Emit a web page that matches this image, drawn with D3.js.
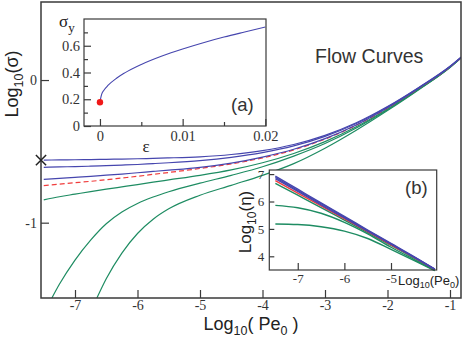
<!DOCTYPE html>
<html><head><meta charset="utf-8">
<script src="https://cdn.jsdelivr.net/npm/d3@7"></script>
<style>body{margin:0;background:#fff}svg{display:block}</style>
</head><body>
<script>
// ---------- data: main flow curves (log10 Pe0 vs log10 sigma) ----------
const pe = [-7.5,-7.25,-7,-6.75,-6.5,-6.25,-6,-5.75,-5.5,-5,-4.5,-4,-3.5,-3,-2.5,-2,-1.5,-1,-0.82];
const blue1 = [-0.561,-0.560,-0.559,-0.558,-0.556,-0.554,-0.552,-0.549,-0.546,-0.538,-0.522,-0.495,-0.452,-0.388,-0.300,-0.186,-0.052,0.096,0.161];
const blue2 = [-0.612,-0.609,-0.607,-0.604,-0.600,-0.596,-0.592,-0.586,-0.580,-0.565,-0.542,-0.509,-0.462,-0.395,-0.305,-0.189,-0.054,0.095,0.160];
const blue3 = [-0.696,-0.689,-0.682,-0.675,-0.667,-0.659,-0.650,-0.641,-0.632,-0.612,-0.582,-0.540,-0.485,-0.411,-0.315,-0.194,-0.057,0.093,0.159];
const redDash = [-0.740,-0.730,-0.720,-0.710,-0.699,-0.687,-0.675,-0.661,-0.648,-0.620,-0.588,-0.546,-0.490,-0.414,-0.317,-0.196,-0.058,0.092,0.159];
const green1 = [-0.840,-0.818,-0.800,-0.782,-0.765,-0.749,-0.733,-0.716,-0.700,-0.668,-0.630,-0.580,-0.515,-0.432,-0.328,-0.203,-0.063,0.090,0.158];
const peG2 = [-7.37,-7.25,-7,-6.75,-6.5,-6.25,-6,-5.75,-5.5,-5,-4.5,-4,-3.5,-3,-2.5,-2,-1.5,-1,-0.82];
const green2 = [-1.528,-1.432,-1.262,-1.122,-1.007,-0.925,-0.865,-0.820,-0.783,-0.723,-0.668,-0.608,-0.533,-0.445,-0.336,-0.208,-0.065,0.089,0.157];
const peG3 = [-6.65,-6.5,-6.25,-6,-5.75,-5.5,-5,-4.5,-4,-3.5,-3,-2.5,-2,-1.5,-1,-0.82];
const green3 = [-1.528,-1.393,-1.213,-1.076,-0.976,-0.903,-0.808,-0.738,-0.668,-0.586,-0.478,-0.352,-0.214,-0.068,0.088,0.156];
const xMarker = [-7.544, -0.561];
const mainXTicks = [-7,-6,-5,-4,-3,-2,-1];
const mainYTicks = [0,-1];

// ---------- inset (a): yield stress vs epsilon ----------
const eps = [0,0.0002,0.0005,0.001,0.002,0.003,0.005,0.0075,0.01,0.0125,0.015,0.0175,0.02];
const sigmaY = [0.18,0.236,0.269,0.305,0.357,0.397,0.46,0.523,0.576,0.623,0.665,0.703,0.74];
const redPoint = [0, 0.178];
const aXTicks = [0,0.01,0.02], aXMinor = [0.005,0.015];
const aYTicks = [0,0.2,0.4,0.6], aYMinor = [0.1,0.3,0.5,0.7];

// ---------- inset (b): log10 eta vs log10 Pe0 ----------
const peB = [-7.48,-7,-6.5,-6,-5.5,-5,-4.5,-4.06];
const etaBlue1 = [6.93,6.45,5.95,5.46,4.96,4.47,3.98,3.53];
const etaBlue2 = [6.88,6.41,5.92,5.43,4.94,4.45,3.97,3.53];
const etaBlue3 = [6.83,6.37,5.88,5.40,4.92,4.44,3.96,3.52];
const etaRed = [6.76,6.31,5.84,5.37,4.90,4.42,3.95,3.52];
const etaGreen1 = [6.66,6.23,5.78,5.32,4.86,4.40,3.93,3.50];
const etaGreen2 = [5.86,5.77,5.57,5.24,4.82,4.33,3.88,3.49];
const etaGreen3 = [5.18,5.16,5.08,4.92,4.65,4.25,3.84,3.48];
const bXTicks = [-7,-6,-5], bYTicks = [4,5,6,7];

const BLUE = "#4646ae", GREEN = "#1e8c62", RED = "#f03c3c", AX = "#3a3a3a";
const SERIF = "'Liberation Serif','Times New Roman',serif";
const SANS = "'Liberation Sans',Arial,sans-serif";

const svg = d3.select("body").append("svg").attr("width",463).attr("height",339);

// ===== main plot =====
const x = d3.scaleLinear().domain([-7.544,-0.824]).range([41,461]);
const y = d3.scaleLinear().domain([-1.528,0.547]).range([298,2]);
svg.append("clipPath").attr("id","cm").append("rect").attr("x",41).attr("y",2).attr("width",420).attr("height",296);

function styleAxis(g, fs){
  g.select(".domain").remove();
  g.selectAll(".tick line").attr("stroke",AX).attr("stroke-width",1.2);
  g.selectAll(".tick text").attr("font-family",SERIF).attr("font-size",fs).attr("fill","#333");
}
const fmt = d => String(d);
svg.append("g").attr("transform","translate(0,298)")
  .call(d3.axisBottom(x).tickValues(mainXTicks).tickFormat(fmt).tickSize(-8).tickPadding(2))
  .call(g=>styleAxis(g,14));
svg.append("g").attr("transform","translate(41,0)")
  .call(d3.axisLeft(y).tickValues(mainYTicks).tickFormat(fmt).tickSize(-8).tickPadding(4))
  .call(g=>styleAxis(g,14));

const line = d3.line().curve(d3.curveMonotoneX);
const plot = svg.append("g").attr("clip-path","url(#cm)");
function addMain(xs, ys, color, dash){
  plot.append("path").attr("d", line(xs.map((v,i)=>[x(v), y(ys[i])])))
    .attr("fill","none").attr("stroke",color).attr("stroke-width",1.2)
    .attr("stroke-dasharray", dash||null);
}
addMain(peG3, green3, GREEN);
addMain(peG2, green2, GREEN);
addMain(pe, green1, GREEN);
addMain(pe, redDash, RED, "5,3");
addMain(pe, blue3, BLUE);
addMain(pe, blue2, BLUE);
addMain(pe, blue1, BLUE);

svg.append("rect").attr("x",41).attr("y",2).attr("width",420).attr("height",296)
  .attr("fill","none").attr("stroke",AX).attr("stroke-width",1.5);

svg.append("path").attr("d", d3.symbol(d3.symbolX, 70)())
  .attr("transform",`translate(${x(xMarker[0])},${y(xMarker[1])})`)
  .attr("fill","none").attr("stroke","#222").attr("stroke-width",1.5);

// axis titles
const xt = svg.append("text").attr("x",251).attr("y",330).attr("text-anchor","middle")
  .attr("font-family",SANS).attr("font-size",18).attr("fill","#222");
xt.append("tspan").text("Log");
xt.append("tspan").attr("font-size",12.5).attr("dy",5).text("10");
xt.append("tspan").attr("dy",-5).text("( Pe");
xt.append("tspan").attr("font-size",12.5).attr("dy",5).text("0");
xt.append("tspan").attr("dy",-5).text(" )");

const yt = svg.append("text").attr("transform","translate(18,84) rotate(-90)").attr("text-anchor","middle")
  .attr("font-family",SANS).attr("font-size",18).attr("fill","#222");
yt.append("tspan").text("Log");
yt.append("tspan").attr("font-size",12.5).attr("dy",5).text("10");
yt.append("tspan").attr("dy",-5).text("(σ)");

svg.append("text").attr("x",315).attr("y",63).attr("font-family",SANS).attr("font-size",19.5)
  .attr("fill","#333").text("Flow Curves");

// ===== inset (a) =====
const xa = d3.scaleLinear().domain([-0.00193,0.02008]).range([84,266]);
const ya = d3.scaleLinear().domain([0,0.8]).range([126,19]);
const ga = svg.append("g");
ga.append("rect").attr("x",84).attr("y",19).attr("width",182).attr("height",107).attr("fill","#fff");
ga.append("g").attr("transform","translate(0,126)")
  .call(d3.axisBottom(xa).tickValues(aXTicks).tickFormat(d=>d===0?"0":d3.format(".2f")(d)).tickSize(-7).tickPadding(5))
  .call(g=>styleAxis(g,14.5));
ga.append("g").attr("transform","translate(0,126)")
  .call(d3.axisBottom(xa).tickValues(aXMinor).tickFormat("").tickSize(-4))
  .call(g=>styleAxis(g,14.5));
ga.append("g").attr("transform","translate(84,0)")
  .call(d3.axisLeft(ya).tickValues(aYTicks).tickFormat(d=>d===0?"0":d3.format(".1f")(d)).tickSize(-7).tickPadding(4))
  .call(g=>styleAxis(g,14.5));
ga.append("g").attr("transform","translate(84,0)")
  .call(d3.axisLeft(ya).tickValues(aYMinor).tickFormat("").tickSize(-4))
  .call(g=>styleAxis(g,14.5));
ga.append("path").attr("d", d3.line().curve(d3.curveMonotoneX)(eps.map((v,i)=>[xa(v),ya(sigmaY[i])])))
  .attr("fill","none").attr("stroke",BLUE).attr("stroke-width",1.1);
ga.append("circle").attr("cx",xa(redPoint[0])).attr("cy",ya(redPoint[1])).attr("r",3.2).attr("fill","#f01818");
ga.append("rect").attr("x",84).attr("y",19).attr("width",182).attr("height",107)
  .attr("fill","none").attr("stroke",AX).attr("stroke-width",1.2);
const sy = ga.append("text").attr("x",59).attr("y",27).attr("font-family",SERIF).attr("font-size",17).attr("fill","#222");
sy.append("tspan").text("σ");
sy.append("tspan").attr("font-size",13).attr("dy",5).text("y");
ga.append("text").attr("x",146).attr("y",152).attr("text-anchor","middle").attr("font-family",SERIF)
  .attr("font-size",17).attr("fill","#222").text("ε");
ga.append("text").attr("x",231).attr("y",111).attr("font-family",SANS).attr("font-size",18.5)
  .attr("fill","#333").text("(a)");

// ===== inset (b) =====
const xb = d3.scaleLinear().domain([-7.61,-4.02]).range([269.3,436.7]);
const yb = d3.scaleLinear().domain([3.5,7.15]).range([270,170]);
const gb = svg.append("g");
gb.append("rect").attr("x",269.3).attr("y",170).attr("width",167.4).attr("height",100).attr("fill","#fff");
gb.append("g").attr("transform","translate(0,270)")
  .call(d3.axisBottom(xb).tickValues(bXTicks).tickFormat(fmt).tickSize(-7).tickPadding(4))
  .call(g=>styleAxis(g,13));
gb.append("g").attr("transform","translate(269.3,0)")
  .call(d3.axisLeft(yb).tickValues(bYTicks).tickFormat(fmt).tickSize(-5).tickPadding(5))
  .call(g=>styleAxis(g,13));
const lineB = d3.line().curve(d3.curveMonotoneX);
[[etaGreen3,GREEN],[etaGreen2,GREEN],[etaGreen1,GREEN],[etaRed,RED],[etaBlue3,BLUE],[etaBlue2,BLUE],[etaBlue1,BLUE]]
  .forEach(([arr,c])=>{
    gb.append("path").attr("d", lineB(peB.map((v,i)=>[xb(v),yb(arr[i])])))
      .attr("fill","none").attr("stroke",c).attr("stroke-width",1.4);
  });
gb.append("rect").attr("x",269.3).attr("y",170).attr("width",167.4).attr("height",100)
  .attr("fill","none").attr("stroke",AX).attr("stroke-width",1.2);
const bl = gb.append("text").attr("x",398).attr("y",285).attr("font-family",SANS).attr("font-size",13).attr("fill","#222");
bl.append("tspan").text("Log");
bl.append("tspan").attr("font-size",9).attr("dy",3).text("10");
bl.append("tspan").attr("dy",-3).text("(Pe");
bl.append("tspan").attr("font-size",9).attr("dy",3).text("0");
bl.append("tspan").attr("dy",-3).text(")");
const byt = gb.append("text").attr("transform","translate(251,222) rotate(-90)").attr("text-anchor","middle")
  .attr("font-family",SANS).attr("font-size",17).attr("fill","#222");
byt.append("tspan").text("Log");
byt.append("tspan").attr("font-size",12).attr("dy",5).text("10");
byt.append("tspan").attr("dy",-5).text("(η)");
gb.append("text").attr("x",405).attr("y",194).attr("font-family",SANS).attr("font-size",18.5)
  .attr("fill","#333").text("(b)");
</script>
</body></html>
